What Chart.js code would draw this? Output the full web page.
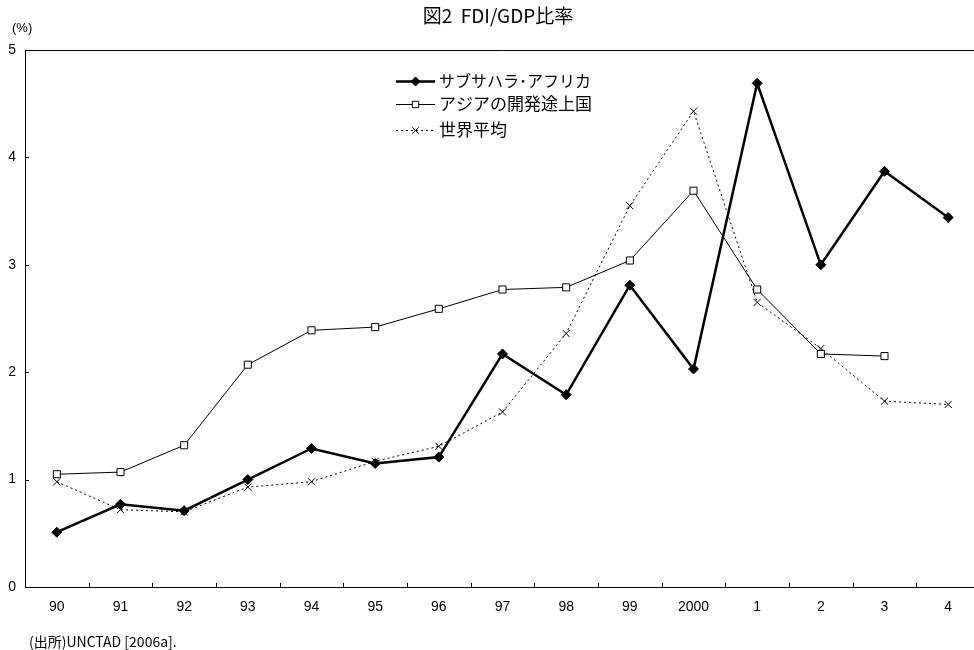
<!DOCTYPE html>
<html>
<head>
<meta charset="utf-8">
<script src="https://cdn.jsdelivr.net/npm/chart.js@4/dist/chart.umd.min.js"></script>
<style>
  html, body { margin: 0; padding: 0; background: #fff; overflow: hidden; }
  #wrap { width: 974px; height: 650px; overflow: hidden; }
  #c { display: block; width: 980px; height: 650px; max-width: none; }
</style>
</head>
<body>
<div id="wrap"><canvas id="c" width="980" height="650"></canvas></div>
<script>
// Years on the horizontal axis
const years = ['90', '91', '92', '93', '94', '95', '96', '97', '98', '99', '2000', '1', '2', '3', '4'];

// FDI as a share of GDP (%)
const subSaharanAfrica = [0.51, 0.77, 0.71, 1.00, 1.29, 1.15, 1.21, 2.17, 1.79, 2.81, 2.03, 4.69, 3.00, 3.87, 3.44];
const developingAsia   = [1.05, 1.07, 1.32, 2.07, 2.39, 2.42, 2.59, 2.77, 2.79, 3.04, 3.69, 2.77, 2.17, 2.15, null];
const worldAverage     = [0.98, 0.72, 0.70, 0.93, 0.98, 1.17, 1.31, 1.63, 2.36, 3.55, 4.43, 2.65, 2.22, 1.73, 1.70];

const seriesNames = ['サブサハラ･アフリカ', 'アジアの開発途上国', '世界平均'];
const yTicks = [0, 1, 2, 3, 4, 5];

const titleText = '図2  FDI/GDP比率';
const unitText = '(%)';
const sourceText = '(出所)UNCTAD [2006a].';

const LATIN = '"Liberation Sans", "Noto Sans CJK JP", sans-serif';
const CJK = '"Noto Sans CJK JP", "Liberation Sans", sans-serif';

// Inward tick marks, top frame line, title, unit, source and the legend box
const decorations = {
  id: 'decorations',
  afterDraw(chart) {
    const ctx = chart.ctx;
    const area = chart.chartArea;
    const x = chart.scales.x;
    const y = chart.scales.y;
    ctx.save();
    ctx.strokeStyle = '#000';
    ctx.lineWidth = 1;

    // top frame line
    ctx.beginPath();
    ctx.moveTo(area.left, area.top + 0.5);
    ctx.lineTo(area.right, area.top + 0.5);
    ctx.stroke();

    // y ticks pointing into the plot
    ctx.beginPath();
    yTicks.forEach(v => {
      const py = Math.round(y.getPixelForValue(v)) + 0.5;
      ctx.moveTo(area.left, py);
      ctx.lineTo(area.left + 4, py);
    });
    // x ticks between the categories, pointing up
    for (let i = 0; i < years.length - 1; i++) {
      const px = Math.round((x.getPixelForValue(i) + x.getPixelForValue(i + 1)) / 2) + 0.5;
      ctx.moveTo(px, area.bottom);
      ctx.lineTo(px, area.bottom - 4);
    }
    ctx.stroke();

    // title
    ctx.fillStyle = '#000';
    ctx.textBaseline = 'middle';
    ctx.textAlign = 'center';
    ctx.font = '19px ' + CJK;
    ctx.fillText(titleText, 498, 16);

    // unit and source
    ctx.textAlign = 'left';
    ctx.font = '13px ' + LATIN;
    ctx.fillText(unitText, 12, 28);
    ctx.font = '14px ' + CJK;
    ctx.fillText(sourceText, 29, 642);

    // legend
    const rows = [81, 104, 130];
    chart.data.datasets.forEach((ds, i) => {
      const ry = rows[i] + 0.5;
      ctx.save();
      ctx.strokeStyle = ds.borderColor;
      ctx.lineWidth = ds.borderWidth;
      ctx.setLineDash(ds.borderDash || []);
      ctx.beginPath();
      ctx.moveTo(396, ry);
      ctx.lineTo(435, ry);
      ctx.stroke();
      ctx.restore();

      ctx.save();
      ctx.fillStyle = ds.pointBackgroundColor;
      ctx.strokeStyle = ds.pointBorderColor;
      ctx.lineWidth = 1;
      ctx.setLineDash([]);
      Chart.helpers.drawPoint(ctx, {
        pointStyle: ds.pointStyle,
        radius: ds.pointRadius - 0.5,
        borderWidth: 1,
        rotation: 0
      }, 415.5, ry);
      ctx.restore();

      ctx.fillStyle = '#000';
      ctx.textAlign = 'left';
      ctx.textBaseline = 'middle';
      ctx.font = (i === 0 ? '16px ' : '17px ') + CJK;
      ctx.fillText(seriesNames[i], 439, rows[i]);
    });
    ctx.restore();
  }
};

const chart = new Chart(document.getElementById('c'), {
  type: 'line',
  data: {
    labels: years,
    datasets: [
      {
        label: seriesNames[0],
        data: subSaharanAfrica,
        borderColor: '#000',
        borderWidth: 2.5,
        pointStyle: 'rectRot',
        pointRadius: 5,
        pointBackgroundColor: '#000',
        pointBorderColor: '#000',
        pointBorderWidth: 1,
        tension: 0
      },
      {
        label: seriesNames[1],
        data: developingAsia,
        borderColor: '#000',
        borderWidth: 1,
        pointStyle: 'rect',
        pointRadius: 5,
        pointBackgroundColor: '#fff',
        pointBorderColor: '#000',
        pointBorderWidth: 1,
        tension: 0,
        spanGaps: false
      },
      {
        label: seriesNames[2],
        data: worldAverage,
        borderColor: '#000',
        borderWidth: 1,
        borderDash: [2, 3],
        pointStyle: 'crossRot',
        pointRadius: 5,
        pointBackgroundColor: '#000',
        pointBorderColor: '#000',
        pointBorderWidth: 1,
        tension: 0
      }
    ]
  },
  options: {
    responsive: false,
    animation: false,
    devicePixelRatio: 1,
    layout: { autoPadding: false, padding: { left: 0, right: 0, top: 50, bottom: 33 } },
    plugins: {
      legend: { display: false },
      title: { display: false },
      tooltip: { enabled: false }
    },
    scales: {
      x: {
        type: 'category',
        offset: true,
        grid: { display: true, drawOnChartArea: false, drawTicks: false, offset: true, color: 'rgba(0,0,0,0)' },
        border: { display: true, color: '#000', width: 1 },
        ticks: { color: '#000', font: { family: LATIN, size: 14 }, padding: 12, maxRotation: 0, autoSkip: false },
        afterFit(scale) { scale.height = 30; }
      },
      y: {
        min: 0,
        max: 5,
        afterBuildTicks(scale) { scale.ticks = yTicks.map(v => ({ value: v })); },
        grid: { display: true, drawOnChartArea: false, drawTicks: false, color: 'rgba(0,0,0,0)' },
        border: { display: true, color: '#000', width: 1 },
        ticks: { color: '#000', font: { family: LATIN, size: 14 }, padding: 9 },
        afterFit(scale) { scale.width = 25; }
      }
    }
  },
  plugins: [decorations]
});
</script>
</body>
</html>
